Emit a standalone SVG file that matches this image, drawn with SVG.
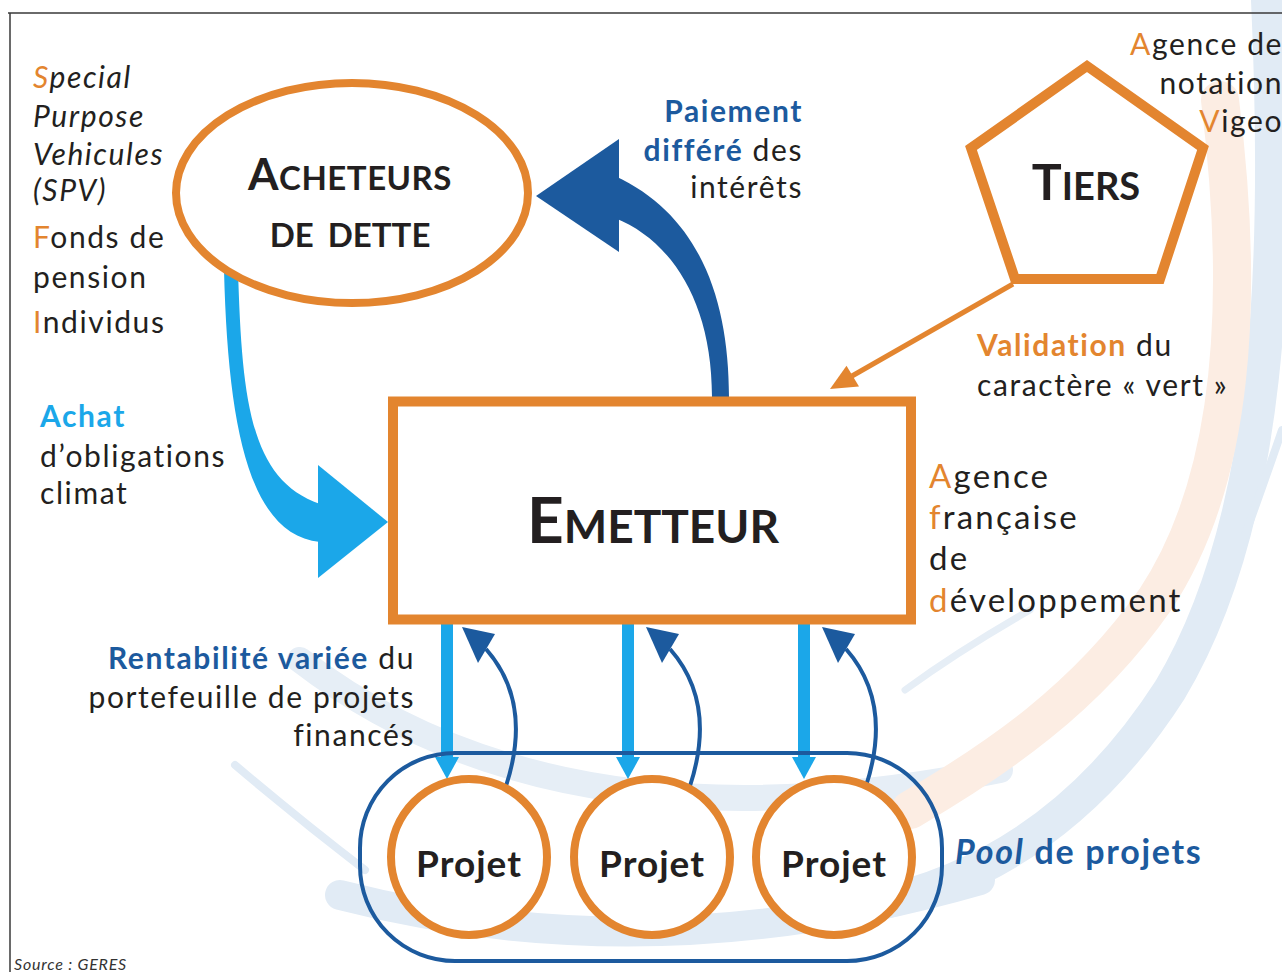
<svg xmlns="http://www.w3.org/2000/svg" width="1282" height="972" viewBox="0 0 1282 972">
<defs>
<style>
.t{font-family:Lato,"Noto Sans",sans-serif;font-size:30px;fill:#231F20;letter-spacing:1.6px}
.afd{font-size:33px;letter-spacing:2.2px}
.it{font-style:italic}
.o{fill:#E3852F}
.ob{fill:#E3852F;font-weight:bold}
.b{fill:#1C5A9E;font-weight:bold}
.lb{fill:#1BA7E9;font-weight:bold}
.pool{font-family:Lato,"Noto Sans",sans-serif;font-size:34px;fill:#1C5A9E;font-weight:bold;letter-spacing:1.7px}
.node{fill:#fff;stroke:#E3852F}
.lbl{font-family:Lato,"Noto Sans",sans-serif;font-weight:bold;fill:#231F20;text-anchor:middle}
.bg{fill:none;stroke-linecap:round}
</style>
</defs>
<rect width="1282" height="972" fill="#fff"/>
<g id="background">
<path class="bg" d="M 1268 0 C 1280 260 1272 520 1170 690 C 1080 830 970 885 870 905" stroke="#E1EBF5" stroke-width="34"/>
<path class="bg" d="M 340 895 Q 650 975 980 880" stroke="#E1EBF5" stroke-width="30"/>
<path class="bg" d="M 300 660 Q 560 860 1000 770" stroke="#E6EEF6" stroke-width="26"/>
<path class="bg" d="M 235 765 Q 300 820 365 870" stroke="#E1EBF5" stroke-width="8"/>
<path class="bg" d="M 1030 610 Q 960 650 905 690" stroke="#E6EEF6" stroke-width="7"/>
<path class="bg" d="M 1245 535 Q 1265 480 1282 430" stroke="#E1EBF5" stroke-width="8"/>
<path class="bg" d="M 1220 100 C 1245 300 1235 480 1155 600 C 1085 700 995 760 910 810" stroke="#FCEDE3" stroke-width="38"/>
</g>
<g id="frame" stroke="#3a3a3a" stroke-width="1.5" fill="none">
<path d="M 8 13 L 1282 13 M 10 13 L 10 972"/>
</g>
<g id="connectors">
<path id="paiement" d="M 712 397 L 729 397 C 729 300 700 215 615 176 L 615 218 C 670 240 712 300 712 397 Z" fill="#1C5A9E"/>
<polygon points="536,196 619,139 619,252" fill="#1C5A9E"/>
<path id="achat" d="M 224 270 L 238 270 C 242 400 250 480 320 504 L 320 542 C 250 535 228 430 224 270 Z" fill="#1BA7E9"/>
<polygon points="388,522 318,465 318,578" fill="#1BA7E9"/>
<line id="validation" x1="1013" y1="284" x2="852" y2="376" stroke="#E3852F" stroke-width="5"/>
<polygon points="830,389 859,386.5 846.5,365.7" fill="#E3852F"/>
<g id="down" fill="#1BA7E9">
<rect x="441" y="622" width="12" height="138"/>
<polygon points="435,757 459,757 447,779"/>
<rect x="622" y="622" width="12" height="138"/>
<polygon points="616,757 640,757 628,779"/>
<rect x="798" y="622" width="12" height="138"/>
<polygon points="792,757 816,757 804,779"/>
</g>
<g id="up" fill="none" stroke="#1C5A9E" stroke-width="4">
<path d="M 506 786 C 521 740 522 690 486 649"/>
<path d="M 690 786 C 705 740 706 690 670 649"/>
<path d="M 866 786 C 881 740 882 690 846 649"/>
</g>
<g fill="#1C5A9E">
<polygon points="462,627 495,634 478,663"/>
<polygon points="646,627 679,634 662,663"/>
<polygon points="822,627 855,634 838,663"/>
</g>
</g>
<g id="pool">
<rect x="360" y="753" width="582" height="208" rx="95" ry="95" fill="none" stroke="#1C5A9E" stroke-width="4"/>
</g>
<g id="acheteurs">
<ellipse cx="352" cy="193" rx="176" ry="110" class="node" stroke-width="8"/>
<text class="lbl" x="350" y="190" letter-spacing="0.5"><tspan font-size="44">A</tspan><tspan font-size="33">CHETEURS</tspan></text>
<text class="lbl" x="350" y="247" font-size="33" word-spacing="6">DE DETTE</text>
</g>
<g id="tiers">
<polygon points="1087,66 1203,148 1160,279 1015,279 971,148" class="node" stroke-width="10"/>
<text class="lbl" x="1086" y="200"><tspan font-size="50">T</tspan><tspan font-size="38">IERS</tspan></text>
</g>
<g id="emetteur">
<rect x="393" y="401.5" width="518" height="218" class="node" stroke-width="10"/>
<text class="lbl" x="653" y="543"><tspan font-size="64">E</tspan><tspan font-size="46">METTEUR</tspan></text>
</g>
<g id="projet1">
<circle cx="469" cy="857" r="78" class="node" stroke-width="8"/>
<text class="lbl" x="469" y="877" font-size="37" letter-spacing="1">Projet</text>
</g>
<g id="projet2">
<circle cx="652" cy="857" r="78" class="node" stroke-width="8"/>
<text class="lbl" x="652" y="877" font-size="37" letter-spacing="1">Projet</text>
</g>
<g id="projet3">
<circle cx="834" cy="857" r="78" class="node" stroke-width="8"/>
<text class="lbl" x="834" y="877" font-size="37" letter-spacing="1">Projet</text>
</g>
<g id="labels">
<text class="t it" x="33" y="88"><tspan class="o">S</tspan>pecial</text>
<text class="t it" x="33" y="127">Purpose</text>
<text class="t it" x="33" y="165">Vehicules</text>
<text class="t it" x="33" y="201">(SPV)</text>
<text class="t" x="33" y="248"><tspan class="o">F</tspan>onds de</text>
<text class="t" x="33" y="288">pension</text>
<text class="t" x="33" y="333"><tspan class="o">I</tspan>ndividus</text>
<text class="t" x="40" y="427"><tspan class="lb">Achat</tspan></text>
<text class="t" x="40" y="467">d’obligations</text>
<text class="t" x="40" y="504">climat</text>
<text class="t" x="803" y="122" text-anchor="end"><tspan class="b">Paiement</tspan></text>
<text class="t" x="803" y="161" text-anchor="end"><tspan class="b">différé</tspan> des</text>
<text class="t" x="803" y="198" text-anchor="end">intérêts</text>
<text class="t" x="1283" y="55" text-anchor="end"><tspan class="o">A</tspan>gence de</text>
<text class="t" x="1283" y="94" text-anchor="end">notation</text>
<text class="t" x="1283" y="132" text-anchor="end"><tspan class="o">V</tspan>igeo</text>
<text class="t" x="977" y="356"><tspan class="ob">Validation</tspan> du</text>
<text class="t" x="977" y="396">caractère « vert »</text>
<text class="t afd" x="929" y="488"><tspan class="o">A</tspan>gence</text>
<text class="t afd" x="929" y="529"><tspan class="o">f</tspan>rançaise</text>
<text class="t afd" x="929" y="570">de</text>
<text class="t afd" x="929" y="612"><tspan class="o">d</tspan>éveloppement</text>
<text class="t" x="415" y="669" text-anchor="end"><tspan class="b">Rentabilité variée</tspan> du</text>
<text class="t" x="415" y="708" text-anchor="end">portefeuille de projets</text>
<text class="t" x="415" y="746" text-anchor="end">financés</text>
<text class="pool" x="955" y="864"><tspan font-style="italic">Pool</tspan> de projets</text>
<text x="14" y="970" font-family="Lato,'Noto Sans',sans-serif" font-size="16" font-style="italic" fill="#333" letter-spacing="0.8">Source : GERES</text>
</g>
</svg>
